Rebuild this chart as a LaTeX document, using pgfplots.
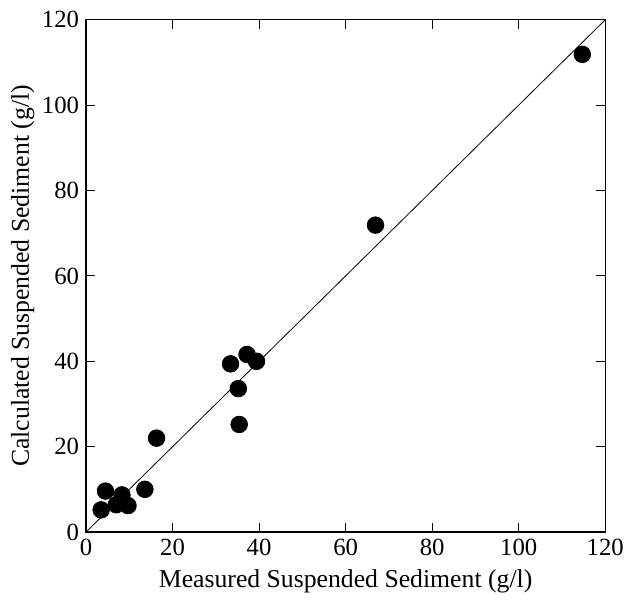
\documentclass[border=0pt]{standalone}
\usepackage{fontspec}
\setmainfont{Liberation Serif}
\usepackage{pgfplots}
\pgfplotsset{compat=1.18}
\begin{document}
\begin{tikzpicture}
\path[use as bounding box] (-43.5pt,-34.5pt) rectangle (273pt,269pt);
\begin{axis}[
  scale only axis, width=262.5pt, height=259pt,
  xmin=0, xmax=120, ymin=0, ymax=120,
  xtick={0,20,...,120}, ytick={0,20,...,120},
  tick align=inside, major tick length=4.5pt,
  tick style={black, line width=0.5pt},
  axis line style={line width=0.6pt},
  /pgf/number format/assume math mode=true,
  tick label style={font=\fontsize{12.5}{14}\selectfont},
  label style={font=\fontsize{13}{15}\selectfont},
  xlabel={Measured Suspended Sediment (g/l)},
  ylabel={Calculated Suspended Sediment (g/l)},
  xlabel style={yshift=0pt},
  ylabel style={yshift=-3pt},
]
\addplot[black, line width=0.4pt] coordinates {(0,0) (120,120)};
\addplot[only marks, mark=*, mark size=4.2pt, black] coordinates {
  (114.7,111.9) (66.9,71.9)
  (37.2,41.6) (33.4,39.4) (39.4,40.0) (35.2,33.6) (35.4,25.2)
  (16.3,22.0) (13.6,10.0) (4.5,9.6) (8.3,8.7) (7.0,6.4) (9.7,6.2) (3.5,5.2)
};
\end{axis}
\end{tikzpicture}
\end{document}
